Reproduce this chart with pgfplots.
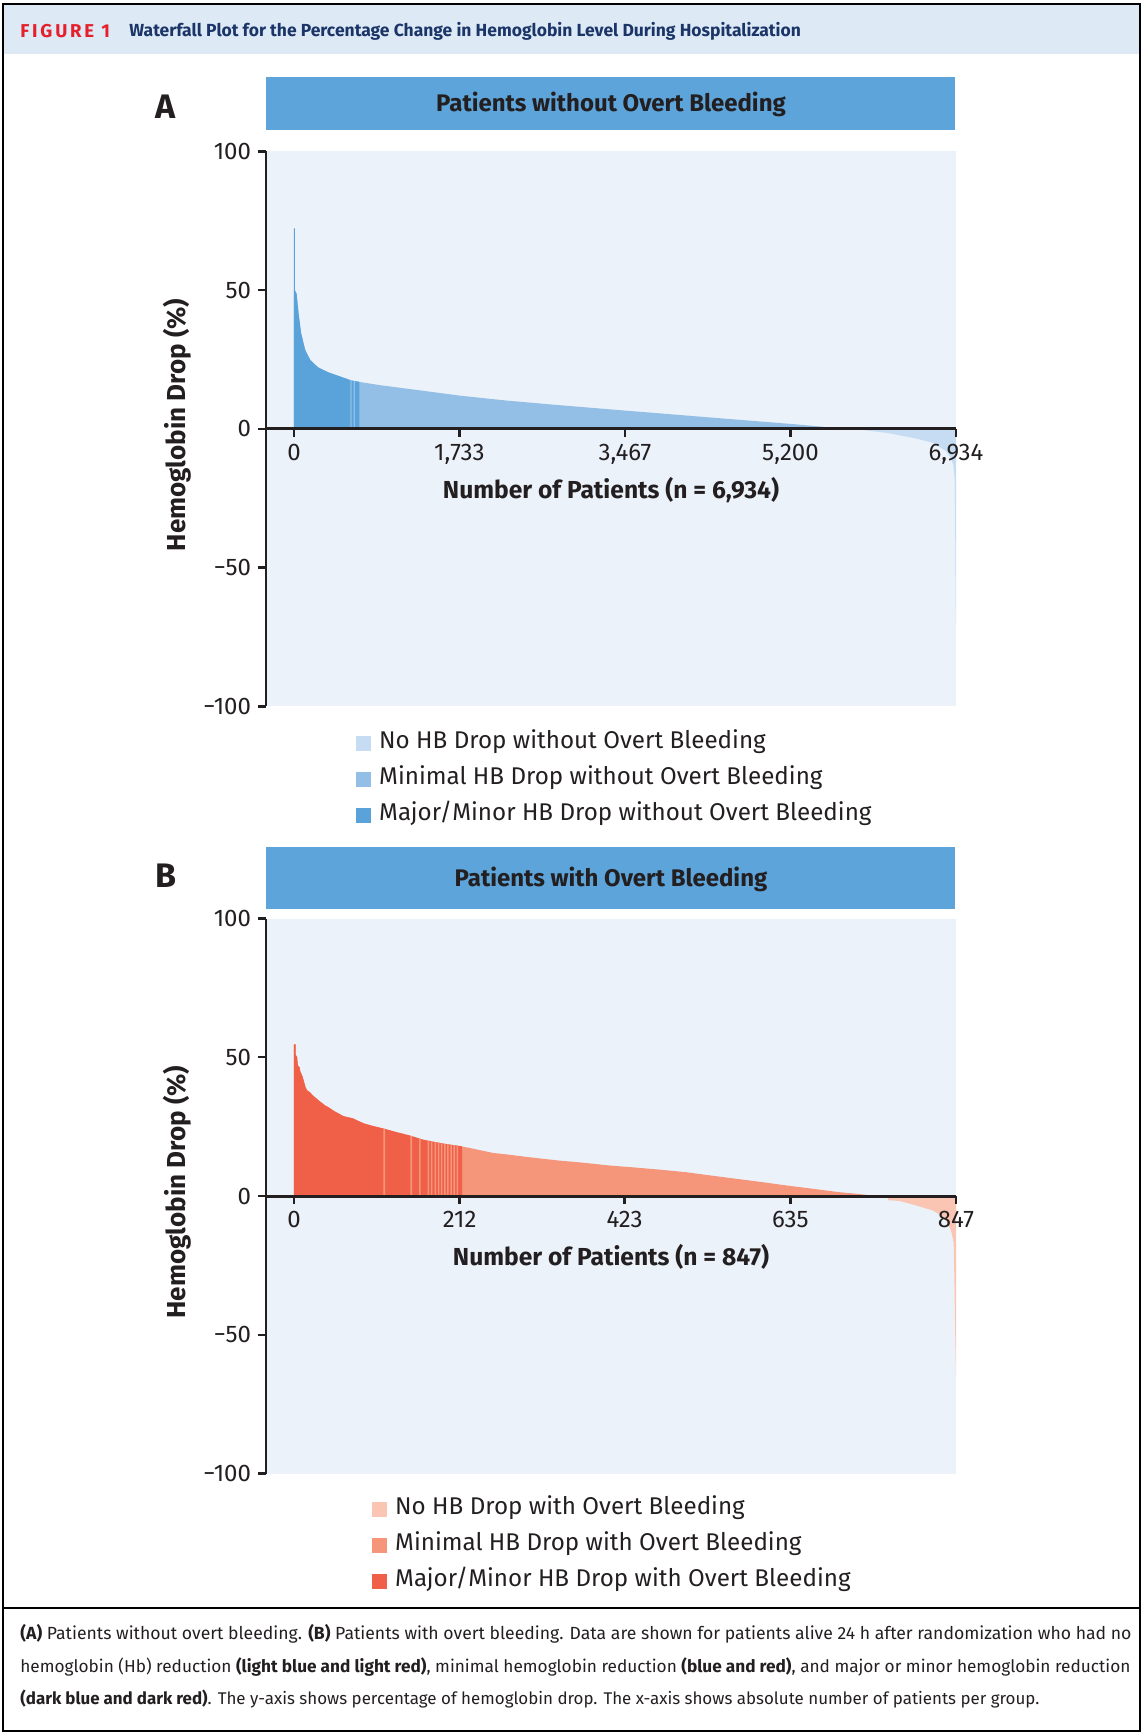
\documentclass[border=0pt]{standalone}
\usepackage{pgfplots}
\pgfplotsset{compat=1.18}
\usepackage{fontspec}
\setmainfont{Fira Sans}
\setsansfont{Fira Sans}
\definecolor{hdrbg}{HTML}{DDEAF6}
\definecolor{figred}{HTML}{E4202C}
\definecolor{navy}{HTML}{1B3568}
\definecolor{barblue}{HTML}{5CA4DA}
\definecolor{plotbg}{HTML}{EBF2FA}
\definecolor{txt}{HTML}{231F20}
\definecolor{bDark}{HTML}{5AA3DA}
\definecolor{bMid}{HTML}{93BEE6}
\definecolor{bLight}{HTML}{C6DCF2}
\definecolor{rDark}{HTML}{F05F48}
\definecolor{rMid}{HTML}{F5957A}
\definecolor{rLight}{HTML}{FAC6B3}

\pgfplotsset{
  wf/.style={
    width=345pt, height=277.5pt, scale only axis,
    axis on top,
    ymin=-100, ymax=100, ytick={-100,-50,0,50,100},
    yticklabels={−100,−50,0,50,100},
    axis background/.style={fill=plotbg, draw=none},
    axis x line*=middle, axis y line*=left,
    hide obscured x ticks=false, hide obscured y ticks=false,
    x axis line style={txt, line width=1.5pt},
    y axis line style={txt, line width=1.2pt},
    tick style={txt, line width=1.2pt},
    major tick length=4pt,
    tick align=outside,
    tick label style={font=\fontsize{12}{14}\selectfont, text=txt},
    /pgf/number format/assume math mode=true,
    every axis x label/.style={at={(axis description cs:0.5,0.5)}, anchor=center, yshift=-30.5pt, font=\bfseries\fontsize{12.3}{14}\selectfont, text=txt},
    every axis y label/.style={at={(axis description cs:0,0.5)}, rotate=90, anchor=center, yshift=44.5pt, xshift=2pt, font=\bfseries\fontsize{13}{15}\selectfont, text=txt},
    ylabel={Hemoglobin Drop (\%)},
    legend image code/.code={\fill[##1] (0pt,-3.7pt) rectangle (7.4pt,3.7pt);},
    legend cell align=left,
    legend style={draw=none, fill=none, anchor=north west, inner sep=0pt, outer sep=0pt,
      font=\fontsize{12.1}{14}\selectfont, text=txt, row sep=4.0pt,
      nodes={inner sep=2pt, text height=0.75em, text depth=0.25em},
      /tikz/every odd column/.append style={column sep=2.2pt}},
  }
}

\begin{document}
\begin{tikzpicture}
\begin{scope}[x=0.5pt,y=-0.5pt]
\path[use as bounding box] (0,0) rectangle (1143,1733);
% header band and frame
\fill[hdrbg] (3,4) rectangle (1140,54);
\draw[black, line width=1pt] (3,4) rectangle (1140,1731);
\draw[black, line width=1.2pt] (3,1608) -- (1140,1608);
\node[anchor=west, inner sep=0pt, text=figred] at (20,31) {\bfseries\fontsize{9.3}{10}\selectfont\addfontfeatures{LetterSpace=15}FIGURE 1};
\node[anchor=west, inner sep=0pt, text=navy] at (129,31) {\bfseries\fontsize{8.75}{10}\selectfont Waterfall Plot for the Percentage Change in Hemoglobin Level During Hospitalization};
% panel headers
\fill[barblue] (266,77) rectangle (955,130);
\node[text=txt, inner sep=0pt] at (611,104) {\bfseries\fontsize{12}{14}\selectfont Patients without Overt Bleeding};
\node[text=txt, inner sep=0pt] at (166,107) {\bfseries\fontsize{17}{20}\selectfont A};
\fill[barblue] (266,847) rectangle (955,909);
\node[text=txt, inner sep=0pt] at (611,879) {\bfseries\fontsize{12}{14}\selectfont Patients with Overt Bleeding};
\node[text=txt, inner sep=0pt] at (166,876) {\bfseries\fontsize{17}{20}\selectfont B};
% caption
\begin{scope}[every node/.style={anchor=west, inner sep=0pt, text=txt, font=\fontsize{8.6}{10}\selectfont}]
\node at (20,1634) {\resizebox{555.5pt}{!}{\textbf{(A)} Patients without overt bleeding. \textbf{(B)} Patients with overt bleeding. Data are shown for patients alive 24 h after randomization who had no}};
\node at (20,1667) {\resizebox{555pt}{!}{hemoglobin (Hb) reduction \textbf{(light blue and light red)}, minimal hemoglobin reduction \textbf{(blue and red)}, and major or minor hemoglobin reduction}};
\node at (20,1699) {\resizebox{509.5pt}{!}{\textbf{(dark blue and dark red)}. The y-axis shows percentage of hemoglobin drop. The x-axis shows absolute number of patients per group.}};
\end{scope}
\end{scope}

% ---------------- Panel A ----------------
\begin{axis}[wf, at={(133pt,-353.2pt)}, anchor=south west,
  xmin=-293, xmax=6934,
  xtick={0,1733,3467,5200,6934},
  xticklabels={0,{1,733},{3,467},{5,200},{6,934}},
  xlabel={Number of Patients (n = 6,934)},
  legend style={at={(axis description cs:0.1304,-0.041)}},
]
\addlegendimage{fill=bLight, draw=none}\addlegendentry{No HB Drop without Overt Bleeding}
\addlegendimage{fill=bMid, draw=none}\addlegendentry{Minimal HB Drop without Overt Bleeding}
\addlegendimage{fill=bDark, draw=none}\addlegendentry{Major/Minor HB Drop without Overt Bleeding}
% minimal (mid) region
\addplot[forget plot, fill=bMid, draw=none] coordinates {
(0,0) (0,50) (27,48.8) (48,41.6) (75,34.4) (118,28.4) (171,24.8) (251,22.2) (358,20.4)
(465,19.1) (588,17.6) (690,16.9) (892,15.8) (1160,14.6) (1427,13.4) (1733,12.0)
(2228,10.2) (2763,8.6) (3467,6.6) (3831,5.6) (4366,4.1) (5200,1.8) (5434,1.1) (5755,0.1) (5755,0)};
% major/minor (dark) region
\addplot[forget plot, fill=bDark, draw=none] coordinates {
(0,0) (0,72.3) (10,72.3) (10,50) (27,48.8) (48,41.6) (75,34.4) (118,28.4) (171,24.8) (251,22.2) (358,20.4)
(465,19.1) (590,17.6) (590,0)};
\addplot[forget plot, fill=bDark, draw=none] coordinates {(605,0) (605,17.45) (625,17.3) (625,0)};
\addplot[forget plot, fill=bDark, draw=none] coordinates {(640,0) (640,17.2) (685,16.95) (685,0)};
% no drop (light) region
\addplot[forget plot, fill=bLight, draw=none] coordinates {
(5755,0) (5957,-0.4) (6201,-1.4) (6480,-3.2) (6690,-5) (6829,-8) (6880,-10.5) (6906,-13)
(6920,-18) (6923,-25) (6926,-40) (6929,-55) (6932,-68) (6934,-70.5) (6934,0)};
\end{axis}

% ---------------- Panel B ----------------
\begin{axis}[wf, at={(133pt,-736.75pt)}, anchor=south west,
  xmin=-35.8, xmax=847,
  xtick={0,212,423,635,847},
  xlabel={Number of Patients (n = 847)},
  legend style={at={(axis description cs:0.1536,-0.040)}},
]
\addlegendimage{fill=rLight, draw=none}\addlegendentry{No HB Drop with Overt Bleeding}
\addlegendimage{fill=rMid, draw=none}\addlegendentry{Minimal HB Drop with Overt Bleeding}
\addlegendimage{fill=rDark, draw=none}\addlegendentry{Major/Minor HB Drop with Overt Bleeding}
% minimal (mid) region
\addplot[forget plot, fill=rMid, draw=none] coordinates {
(0,0) (0,54.6) (2,54.6) (2,51) (4,50) (5,47) (7,46.5) (8,45) (11,43) (13,41) (15,39) (17,38)
(20,37.5) (24,36.3) (28,35.3) (34,33.9) (40,32.6) (44,32) (52,30.5) (60,29.3) (63,28.8)
(75,28) (89,26.2) (100,25.3) (116,24.2) (130,23.1) (148,21.8) (165,20.3) (181,19.4)
(195,18.7) (212,18) (225,17.3) (240,16.4) (255,15.5) (272,15) (300,14) (338,12.8)
(370,12) (403,11) (435,10.3) (468,9.5) (501,8.6) (533,7.4) (566,6.2) (599,5) (630,3.8)
(664,2.6) (697,1.4) (720,0.8) (739,0.2) (742,0)};
% major/minor (dark) region
\addplot[forget plot, fill=rDark, draw=none] coordinates {
(0,0) (0,54.6) (2,54.6) (2,51) (4,50) (5,47) (7,46.5) (8,45) (11,43) (13,41) (15,39) (17,38)
(20,37.5) (24,36.3) (28,35.3) (34,33.9) (40,32.6) (44,32) (52,30.5) (60,29.3) (63,28.8)
(75,28) (89,26.2) (100,25.3) (116,24.2) (130,23.1) (148,21.8) (165,20.3) (181,19.4)
(195,18.7) (215,17.9) (215,0)};
% minimal-drop patients interleaved in the dark region
\addplot[forget plot, ybar, bar width=2, bar shift=0pt, fill=rMid, draw=none] coordinates {
(115.5,24.2) (150,21.7) (161,20.6) (172,19.9) (176,19.6) (181,19.4) (185,19.2)
(189,19.0) (193,18.8) (197,18.6) (201,18.4) (205,18.3) (209,18.1)};
% no drop (light) region
\addplot[forget plot, fill=rLight, draw=none] coordinates {
(760,0) (760,-1.5) (775,-1.8) (796,-3.4) (817,-5.2) (828,-7) (834,-8.8) (840,-12)
(842,-14) (844,-17) (845,-31.6) (846,-50) (847,-65) (847,0)};
\end{axis}
\end{tikzpicture}
\end{document}
